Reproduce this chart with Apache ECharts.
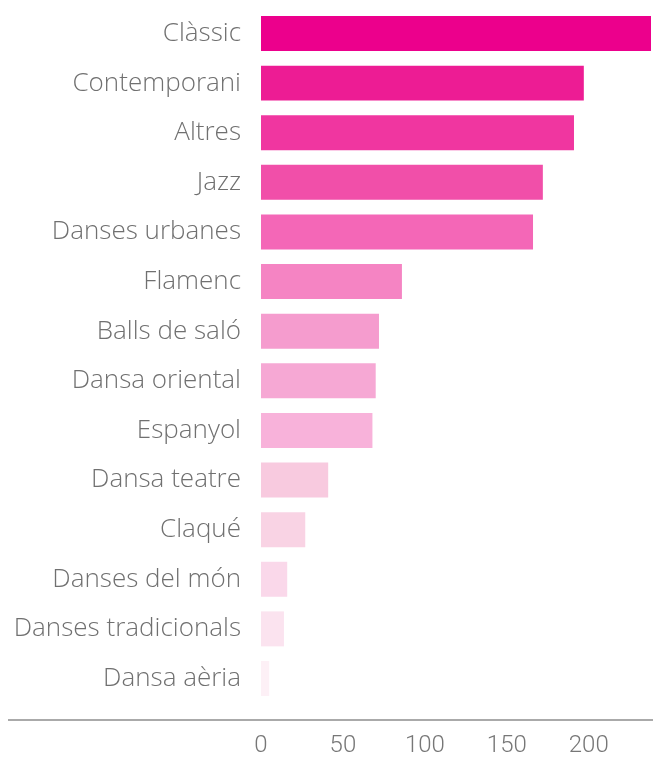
<!DOCTYPE html>
<html>
<head>
<meta charset="utf-8">
<script src="https://cdn.jsdelivr.net/npm/echarts@6/dist/echarts.min.js"></script>
<style>
html,body{margin:0;padding:0;background:#fff;}
#chart{width:653px;height:760px;}
</style>
</head>
<body>
<div id="chart"></div>
<script>
const categories = ["Clàssic","Contemporani","Altres","Jazz","Danses urbanes","Flamenc","Balls de saló","Dansa oriental","Espanyol","Dansa teatre","Claqué","Danses del món","Danses tradicionals","Dansa aèria"];
const values = [238, 197, 191, 172, 166, 86, 72, 70, 68, 41, 27, 16, 14, 5];
const tickValues = [0, 50, 100, 150, 200];
const barColors = ["#EC008C","#ED1C94","#F036A0","#F14FA9","#F467B7","#F584C3","#F59CCE","#F6A8D4","#F8B2DA","#F8CADF","#F9D3E4","#FAD8EA","#FBE3EF","#FDF0F6"];

const chart = echarts.init(document.getElementById('chart'), null, {renderer:'canvas'});
const option = {
  animation: false,
  backgroundColor: '#fff',
  grid: {left: 261, right: 2, top: 8.7, bottom: 56.7, containLabel: false, outerBoundsMode: 'none'},
  xAxis: {
    type: 'value', min: 0, max: 238, interval: 50,
    offset: 17,
    axisLine: {show: false}, axisTick: {show: false}, splitLine: {show: false},
    axisLabel: {
      showMaxLabel: false, margin: 14,
      color: '#777', fontFamily: 'Roboto', fontWeight: 300, fontSize: 24,
      formatter: v => tickValues.includes(v) ? String(v) : ''
    }
  },
  yAxis: {
    type: 'category', data: categories, inverse: true,
    axisLine: {show: false}, axisTick: {show: false},
    axisLabel: {margin: 20, color: '#707070', fontFamily: 'Open Sans', fontWeight: 300, fontSize: 26}
  },
  graphic: [{
    type: 'line', shape: {x1: 8, y1: 720, x2: 653, y2: 720},
    style: {stroke: '#aaaaaa', lineWidth: 2}
  }],
  series: [{
    type: 'bar',
    barCategoryGap: '29.5%',
    data: values.map((v, i) => ({value: v, itemStyle: {color: barColors[i]}}))
  }]
};
chart.setOption(option);
</script>
</body>
</html>
